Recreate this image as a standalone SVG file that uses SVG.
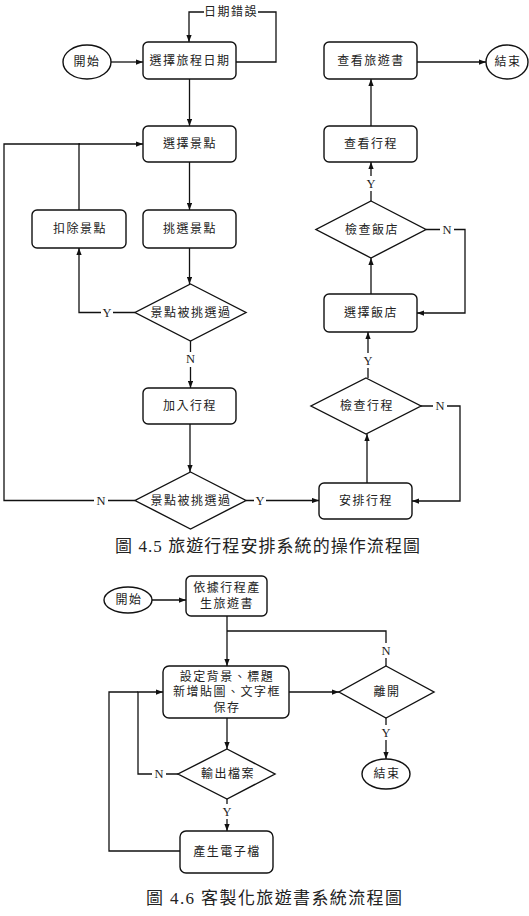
<svg xmlns="http://www.w3.org/2000/svg" width="529" height="916" viewBox="0 0 529 916">
<style>
.box{fill:#fff;stroke:#111;stroke-width:1.4}
.t{font-family:"Liberation Serif","Noto Sans CJK TC",serif;font-size:12px;fill:#222;text-anchor:middle;dominant-baseline:central;letter-spacing:1.5px}
.lbl{font-family:"Liberation Serif","Noto Sans CJK TC",serif;font-size:12.5px;fill:#222;text-anchor:middle;dominant-baseline:central}
.lb{fill:#fff}
.c{fill:none;stroke:#111;stroke-width:1.3}
.cap{font-family:"Liberation Serif","Noto Sans CJK TC",serif;font-size:17px;fill:#222;dominant-baseline:central}
</style>
<defs>
<marker id="ah" viewBox="0 0 8 6" refX="8" refY="3" markerWidth="7" markerHeight="5.5" markerUnits="userSpaceOnUse" orient="auto">
<path d="M0,0 L8,3 L0,6 z" fill="#111"/>
</marker>
</defs>

<g id="connectors">
<path class="c" d="M111,62 H143" marker-end="url(#ah)"/>
<path class="c" d="M236,62 H276 V12 H189 V42" marker-end="url(#ah)"/>
<path class="c" d="M189.5,79 V126" marker-end="url(#ah)"/>
<path class="c" d="M189.5,162 V210" marker-end="url(#ah)"/>
<path class="c" d="M189.5,248 V284" marker-end="url(#ah)"/>
<path class="c" d="M135,312.5 H79 V248" marker-end="url(#ah)"/>
<path class="c" d="M79,210 V144 H143" marker-end="url(#ah)"/>
<path class="c" d="M190.5,341 V388" marker-end="url(#ah)"/>
<path class="c" d="M190,424 V472" marker-end="url(#ah)"/>
<path class="c" d="M135,500.5 H4 V144 H80"/>
<path class="c" d="M246,500.5 H319" marker-end="url(#ah)"/>
<path class="c" d="M367,483 V434" marker-end="url(#ah)"/>
<path class="c" d="M421,406 H460 V501 H412" marker-end="url(#ah)"/>
<path class="c" d="M368,378 V332" marker-end="url(#ah)"/>
<path class="c" d="M371,294 V258" marker-end="url(#ah)"/>
<path class="c" d="M426,229.5 H465 V313 H417" marker-end="url(#ah)"/>
<path class="c" d="M371,201 V162" marker-end="url(#ah)"/>
<path class="c" d="M371,126 V79" marker-end="url(#ah)"/>
<path class="c" d="M417,62 H486" marker-end="url(#ah)"/>

<path class="c" d="M152,600 H186" marker-end="url(#ah)"/>
<path class="c" d="M227,616 V666" marker-end="url(#ah)"/>
<path class="c" d="M227,631 H386 V666"/>
<path class="c" d="M289,692 H339" marker-end="url(#ah)"/>
<path class="c" d="M386,718 V759" marker-end="url(#ah)"/>
<path class="c" d="M227,718 V749" marker-end="url(#ah)"/>
<path class="c" d="M178,774 H138 V692 H163" marker-end="url(#ah)"/>
<path class="c" d="M227,799 V831" marker-end="url(#ah)"/>
<path class="c" d="M180,851 H109 V692 H138"/>

<g id="labels">
<rect class="lb" x="204" y="5" width="54" height="14"/>
<text class="t" x="231" y="12">日期錯誤</text>
<rect class="lb" x="101" y="305" width="12" height="15"/>
<text class="lbl" x="107" y="313">Y</text>
<rect class="lb" x="184" y="352" width="13" height="15"/>
<text class="lbl" x="190.5" y="359">N</text>
<rect class="lb" x="94" y="493" width="14" height="15"/>
<text class="lbl" x="101" y="501">N</text>
<rect class="lb" x="254" y="493" width="12" height="15"/>
<text class="lbl" x="260" y="501">Y</text>
<rect class="lb" x="433" y="398" width="14" height="15"/>
<text class="lbl" x="440" y="406">N</text>
<rect class="lb" x="362" y="353" width="12" height="15"/>
<text class="lbl" x="368" y="361">Y</text>
<rect class="lb" x="440" y="222" width="14" height="15"/>
<text class="lbl" x="447" y="230">N</text>
<rect class="lb" x="365" y="176" width="12" height="15"/>
<text class="lbl" x="371" y="184">Y</text>
<rect class="lb" x="379" y="643" width="14" height="15"/>
<text class="lbl" x="386" y="651">N</text>
<rect class="lb" x="380" y="725" width="12" height="15"/>
<text class="lbl" x="386" y="733">Y</text>
<rect class="lb" x="152" y="766" width="14" height="15"/>
<text class="lbl" x="159" y="774">N</text>
<rect class="lb" x="221" y="804" width="12" height="15"/>
<text class="lbl" x="227" y="812">Y</text>
</g>
</g>

<g id="start1"><ellipse class="box" cx="87" cy="62" rx="24" ry="17"/><text class="t" x="87" y="62">開始</text></g>
<g id="n_date"><rect class="box" x="143" y="42" width="93" height="37" rx="5"/><text class="t" x="190" y="61">選擇旅程日期</text></g>
<g id="n_view_book"><rect class="box" x="324" y="42" width="93" height="37" rx="5"/><text class="t" x="371" y="61">查看旅遊書</text></g>
<g id="end1"><ellipse class="box" cx="507" cy="62" rx="21" ry="17"/><text class="t" x="508" y="62">結束</text></g>
<g id="n_select_spot"><rect class="box" x="143" y="126" width="93" height="36" rx="5"/><text class="t" x="190" y="144">選擇景點</text></g>
<g id="n_view_itin"><rect class="box" x="324" y="126" width="93" height="36" rx="5"/><text class="t" x="371" y="144">查看行程</text></g>
<g id="n_remove"><rect class="box" x="32" y="210" width="94" height="38" rx="5"/><text class="t" x="80" y="229">扣除景點</text></g>
<g id="n_pick"><rect class="box" x="143" y="210" width="93" height="38" rx="5"/><text class="t" x="190" y="229">挑選景點</text></g>
<g id="d_check_hotel"><path class="box" d="M371,201 L426,229.5 L371,258 L316,229.5 Z"/><text class="t" x="372" y="229.5">檢查飯店</text></g>
<g id="d_spot1"><path class="box" d="M190.5,284 L246,312.5 L190.5,341 L135,312.5 Z"/><text class="t" x="191" y="312.5">景點被挑選過</text></g>
<g id="n_hotel"><rect class="box" x="324" y="294" width="93" height="38" rx="5"/><text class="t" x="371" y="313">選擇飯店</text></g>
<g id="n_add"><rect class="box" x="143" y="388" width="93" height="36" rx="5"/><text class="t" x="190" y="406">加入行程</text></g>
<g id="d_check_itin"><path class="box" d="M366,378 L421,406 L366,434 L311,406 Z"/><text class="t" x="367" y="406">檢查行程</text></g>
<g id="n_arrange"><rect class="box" x="319" y="483" width="93" height="36" rx="5"/><text class="t" x="366" y="501">安排行程</text></g>
<g id="d_spot2"><path class="box" d="M190.5,472 L246,500.5 L190.5,529 L135,500.5 Z"/><text class="t" x="191" y="500.5">景點被挑選過</text></g>

<text class="cap" x="115" y="546" textLength="305" lengthAdjust="spacing">圖 4.5 旅遊行程安排系統的操作流程圖</text>

<g id="start2"><ellipse class="box" cx="128" cy="600" rx="24" ry="13"/><text class="t" x="129" y="600">開始</text></g>
<g id="n_gen"><rect class="box" x="186" y="576" width="81" height="40" rx="5"/><text class="t" x="227" y="588">依據行程產</text><text class="t" x="227" y="604">生旅遊書</text></g>
<g id="n_set"><rect class="box" x="163" y="666" width="126" height="52" rx="6"/><text class="t" x="227" y="677">設定背景、標題</text><text class="t" x="227" y="692">新增貼圖、文字框</text><text class="t" x="227" y="708">保存</text></g>
<g id="d_leave"><path class="box" d="M386,666 L434,692 L386,718 L339,692 Z"/><text class="t" x="387" y="692">離開</text></g>
<g id="d_output"><path class="box" d="M227,749 L275,774 L227,799 L178,774 Z"/><text class="t" x="228" y="774">輸出檔案</text></g>
<g id="end2"><ellipse class="box" cx="386" cy="774" rx="24" ry="15"/><text class="t" x="387" y="774">結束</text></g>
<g id="n_file"><rect class="box" x="180" y="831" width="93" height="42" rx="6"/><text class="t" x="227" y="852">產生電子檔</text></g>

<text class="cap" x="146" y="898" textLength="256" lengthAdjust="spacing">圖 4.6 客製化旅遊書系統流程圖</text>
</svg>
